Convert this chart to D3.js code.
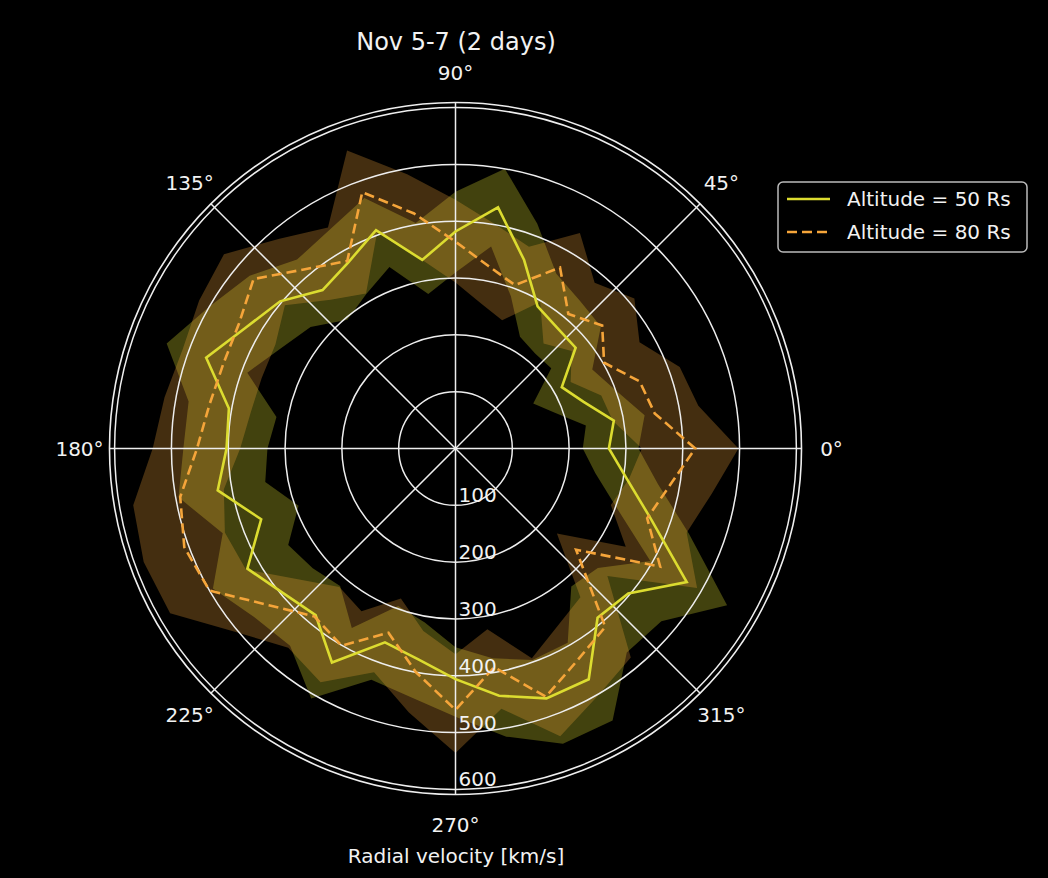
<!DOCTYPE html>
<html>
<head>
<meta charset="utf-8">
<script src="https://cdn.jsdelivr.net/npm/d3@7"></script>
<style>
  html, body { margin: 0; padding: 0; background: #000; }
  svg { display: block; }
  text { font-family: "DejaVu Sans", sans-serif; fill: #f2f2f2; }
</style>
</head>
<body>
<script>
// ---- data (angles in degrees, values in km/s) ----
const angles = [0,10,20,30,40,50,60,70,80,90,100,110,120,130,140,150,160,170,180,190,200,210,220,230,240,250,260,270,280,290,300,310,320,330,340,350];

const line50 = [270,283,240,216,276,278,289,353,431,382,337,409,378,364,403,426,467,405,403,425,364,423,396,383,435,363,377,406,442,468,469,389,397,470,367,306];
const lo50   = [224,233,185,158,220,218,227,285,361,310,276,340,314,296,333,354,390,320,331,340,294,340,328,316,365,295,311,350,375,396,395,317,327,396,301,250];
const up50   = [322,338,300,278,334,340,355,421,500,452,403,469,444,434,473,500,541,477,479,495,436,493,462,453,508,433,445,472,515,553,553,469,473,552,437,362];

const line80 = [422,356,345,302,337,309,368,306,327,364,420,480,381,412,464,440,435,440,455,492,508,500,429,386,401,345,400,460,391,465,430,410,277,416,359,382];
const lo80   = [328,281,273,234,267,241,298,240,259,292,337,404,315,342,392,366,363,366,379,414,432,426,359,318,331,281,326,362,323,393,360,342,233,346,291,310];
const up80   = [498,434,420,374,411,381,438,378,401,438,490,558,449,482,532,521,511,520,533,576,584,580,503,458,475,419,472,536,465,539,502,480,349,491,433,458];

const rTicks = [100,200,300,400,500,600];
const thetaTicks = [0,45,90,135,180,225,270,315];
const seriesNames = ["Altitude = 50 Rs", "Altitude = 80 Rs"];
const titleText = "Nov 5-7 (2 days)";
const xLabelText = "Radial velocity [km/s]";

// ---- layout ----
const W = 1048, H = 878;
const cx = 455.5, cy = 448.5, R = 346, RMAX = 609;
const col50 = "#dcdc30", col80 = "#f5a53a";

const svg = d3.select("body").append("svg").attr("width", W).attr("height", H);
svg.append("rect").attr("width", W).attr("height", H).attr("fill", "#000");

const r = d3.scaleLinear().domain([0, RMAX]).range([0, R]);
const toRad = d => Math.PI / 2 - d * Math.PI / 180; // d3 radial angle (0 = up, clockwise)

const g = svg.append("g").attr("transform", `translate(${cx},${cy})`);

function band(lo, up) {
  return d3.areaRadial()
    .angle((d, i) => toRad(angles[i]))
    .innerRadius((d, i) => r(lo[i]))
    .outerRadius((d, i) => r(up[i]))
    .curve(d3.curveLinearClosed);
}
function radialLine(vals) {
  return d3.lineRadial()
    .angle((d, i) => toRad(angles[i]))
    .radius((d, i) => r(vals[i]))
    .curve(d3.curveLinearClosed);
}

// bands (drawn below grid, like matplotlib patches)
g.append("path").attr("d", band(lo50, up50)(angles)).attr("fill", col50).attr("fill-opacity", 0.3).attr("fill-rule", "evenodd");
g.append("path").attr("d", band(lo80, up80)(angles)).attr("fill", col80).attr("fill-opacity", 0.28).attr("fill-rule", "evenodd");

// grid
const grid = g.append("g").attr("stroke", "#eeeeee").attr("fill", "none").attr("stroke-width", 1.5);
rTicks.forEach(v => grid.append("circle").attr("r", r(v)));
thetaTicks.forEach(t => {
  const a = t * Math.PI / 180;
  grid.append("line").attr("x1", 0).attr("y1", 0)
    .attr("x2", R * Math.cos(a)).attr("y2", -R * Math.sin(a));
});
// spine
g.append("circle").attr("r", R).attr("fill", "none").attr("stroke", "#eeeeee").attr("stroke-width", 1.6);

// lines
g.append("path").attr("d", radialLine(line50)(angles)).attr("fill", "none")
  .attr("stroke", col50).attr("stroke-width", 2.6).attr("stroke-linejoin", "miter");
g.append("path").attr("d", radialLine(line80)(angles)).attr("fill", "none")
  .attr("stroke", col80).attr("stroke-width", 2.6).attr("stroke-dasharray", "10,5");

// theta labels
thetaTicks.forEach(t => {
  const a = t * Math.PI / 180;
  const rr = R + 30;
  g.append("text").attr("x", rr * Math.cos(a)).attr("y", -rr * Math.sin(a))
    .attr("dy", "0.36em").attr("text-anchor", "middle").attr("font-size", 20)
    .text(t + "°");
});

// radial labels (at 270°)
rTicks.forEach(v => {
  g.append("text").attr("x", 3).attr("y", r(v) - 3)
    .attr("text-anchor", "start").attr("font-size", 20).text(v);
});

// title & x label
svg.append("text").attr("x", 456).attr("y", 50).attr("text-anchor", "middle")
  .attr("font-size", 24).text(titleText);
svg.append("text").attr("x", 456).attr("y", 863).attr("text-anchor", "middle")
  .attr("font-size", 20).text(xLabelText);

// legend
const lg = svg.append("g").attr("transform", "translate(778,182)");
lg.append("rect").attr("width", 249).attr("height", 70).attr("rx", 5)
  .attr("fill", "#000").attr("fill-opacity", 0.8).attr("stroke", "#bbbbbb").attr("stroke-width", 1.5);
const legItems = [
  { name: seriesNames[0], color: col50, dash: null },
  { name: seriesNames[1], color: col80, dash: "10,5" }
];
legItems.forEach((it, i) => {
  const y = 17 + i * 33;
  const ln = lg.append("line").attr("x1", 9).attr("x2", 52).attr("y1", y).attr("y2", y)
    .attr("stroke", it.color).attr("stroke-width", 2.6);
  if (it.dash) ln.attr("stroke-dasharray", it.dash);
  lg.append("text").attr("x", 69).attr("y", y + 7).attr("font-size", 20).text(it.name);
});
</script>
</body>
</html>
